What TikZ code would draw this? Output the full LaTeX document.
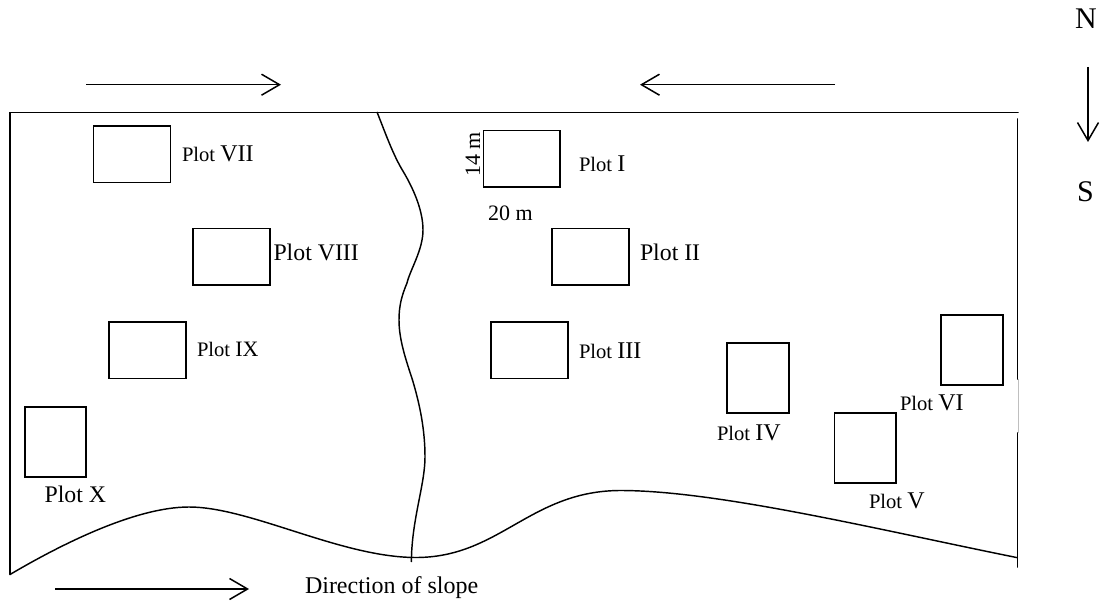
\documentclass[tikz,border=0pt]{standalone}
\usepackage{fontspec}
\setmainfont{Liberation Serif}
\usetikzlibrary{arrows.meta}
\newcommand{\fs}[1]{\fontsize{#1}{#1}\selectfont}
\tikzset{
  plotbox/.style={draw=black,line width=1.6pt},
  lineblk/.style={draw=black,line width=1.7pt,line cap=round},
  thinblk/.style={draw=black,line width=1.45pt,line join=round},
  flowarrow/.style={draw=black,line width=1.5pt,-{Straight Barb[length=18pt,width=21pt,line width=1.5pt]}},
  lab/.style={anchor=base west,inner sep=0pt,outer sep=0pt,text=black}
}
\begin{document}
\begin{tikzpicture}[x=1pt,y=-1pt]
\useasboundingbox (0,0) rectangle (1104,604);
% plots
\draw[plotbox] (93.5,126) rectangle (170.5,182.5);
\draw[plotbox] (193,228.5) rectangle (270,285);
\draw[plotbox] (109,322) rectangle (186,378.5);
\draw[plotbox] (25,407) rectangle (86,477);
\draw[plotbox] (483.5,130.5) rectangle (560,187);
\draw[plotbox] (552,228.5) rectangle (629,285);
\draw[plotbox] (491,322) rectangle (568,378.5);
\draw[plotbox] (727,343) rectangle (789,413);
\draw[plotbox] (834.5,413) rectangle (896,483);
\draw[plotbox] (941,315) rectangle (1003,385);
% frame
\draw[lineblk] (1018,112.5) -- (10,112.5) -- (10,574.5);
\draw[lineblk] (1017.5,119) -- (1017.5,379);
\draw[draw=black!25,line width=0.6pt] (1018.5,379) -- (1018.5,433);
\draw[lineblk] (1017.5,433) -- (1017.5,567);
% ground line
\draw[thinblk] (10,574.5) .. controls (60,545) and (135,507) .. (189,507)
  .. controls (250,507) and (340,557) .. (415,557.5)
  .. controls (500,558) and (530,490) .. (622,490.5)
  .. controls (720,491) and (880,530) .. (1017.5,557.7);
% stream
\draw[thinblk] (377,112) .. controls (385,132) and (393,155) .. (403.5,172)
  .. controls (413,188) and (423,210) .. (423,230)
  .. controls (423,250) and (410,270) .. (407,283)
  .. controls (402,295) and (399,305) .. (399,320)
  .. controls (399,340) and (406,360) .. (412.5,380)
  .. controls (420,405) and (425,430) .. (425,457)
  .. controls (425,485) and (411.5,520) .. (411.4,562);
% arrows
\coordinate (a1s) at (86,84.7); \coordinate (a1e) at (281,84.7);
\coordinate (a2s) at (835,84.7); \coordinate (a2e) at (640,84.7);
\coordinate (a3s) at (55,589); \coordinate (a3e) at (249,589);
\coordinate (a4s) at (1088,67); \coordinate (a4e) at (1088,142);
\draw[flowarrow] (a1s) -- (a1e);
\draw[flowarrow] (a2s) -- (a2e);
\draw[flowarrow] (a3s) -- (a3e);
\draw[flowarrow] (a4s) -- (a4e);
% labels
\node[lab] (l7) at (182,162) {\fs{20.6}Plot \fs{24}VII};
\node[lab] (l8) at (273.5,261) {\fs{23.8}Plot VIII};
\node[lab] (l9) at (197,356.5) {\fs{20.6}Plot \fs{22}IX};
\node[lab] (l10) at (44.6,502.5) {\fs{23.8}Plot X};
\node[lab] (l1) at (579,171.5) {\fs{20.6}Plot \fs{24}I};
\node[lab] (l2) at (640,260.5) {\fs{23.8}Plot II};
\node[lab] (l3) at (579,358.5) {\fs{20.6}Plot \fs{24}III};
\node[lab] (l4) at (717,440.5) {\fs{20.6}Plot \fs{24}IV};
\node[lab] (l5) at (869,508.5) {\fs{20.6}Plot \fs{24}V};
\node[lab] (l6) at (900,410.5) {\fs{20.6}Plot \fs{24}VI};
\node[lab] (m20) at (488,221) {\fs{22}20 m};
\node[lab,rotate=90] (m14) at (480,177) {\fs{22}14 m};
\node[lab] (slope) at (305,593) {\fs{24}Direction of slope};
\node[lab] (north) at (1075,28.5) {\fs{30}N};
\node[lab] (south) at (1077,201.5) {\fs{30}S};
\end{tikzpicture}
\end{document}
